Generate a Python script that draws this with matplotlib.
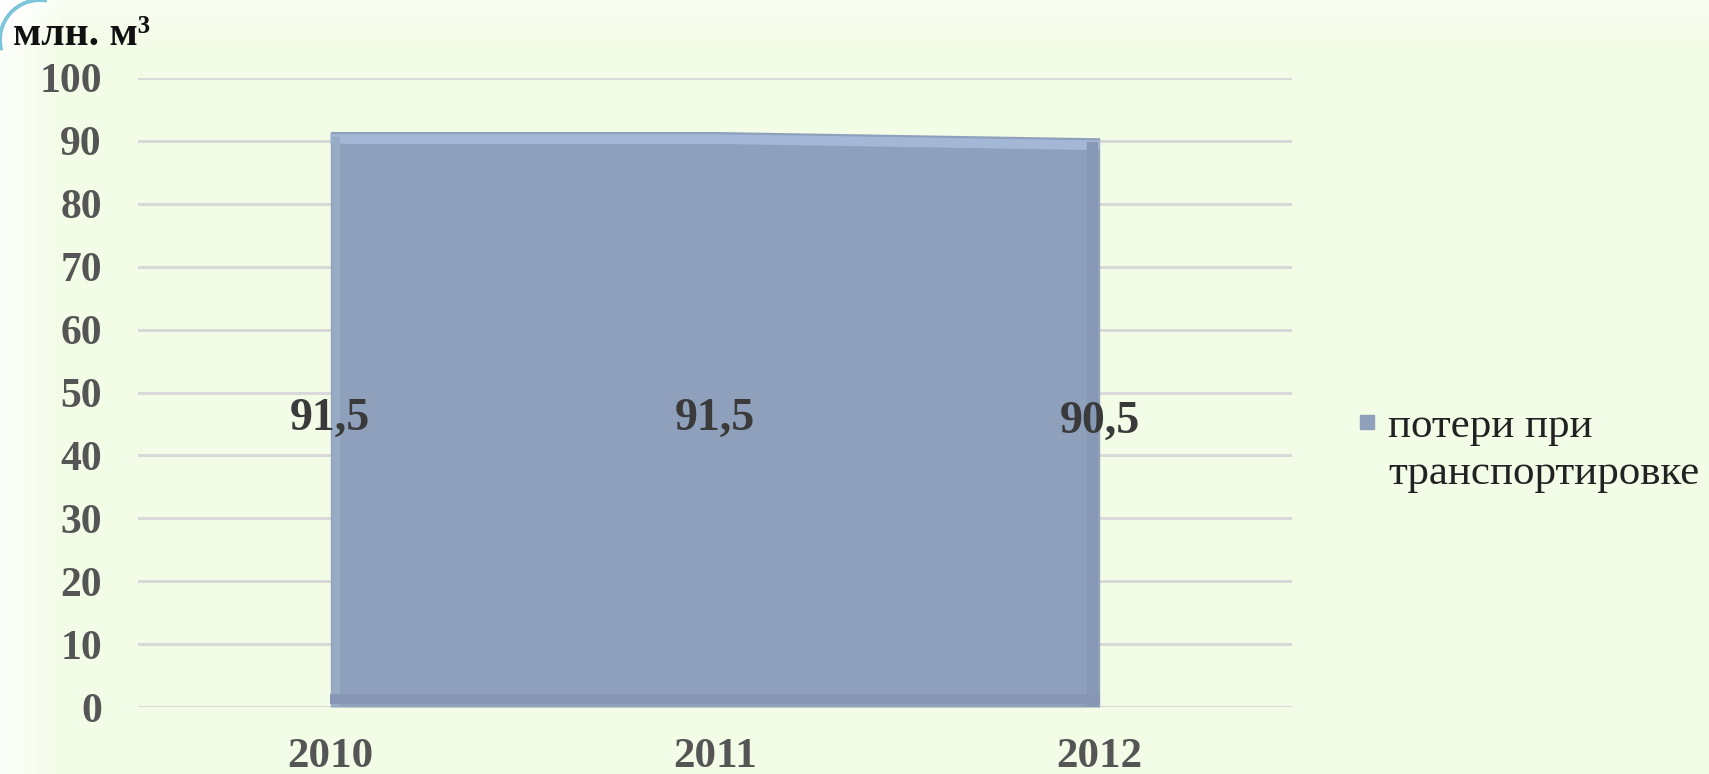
import matplotlib
matplotlib.use("Agg")
import matplotlib.pyplot as plt
import numpy as np
from matplotlib.patches import Arc

years = ["2010", "2011", "2012"]
values = [91.5, 91.5, 90.5]
value_labels = ["91,5", "91,5", "90,5"]
yticks = [0, 10, 20, 30, 40, 50, 60, 70, 80, 90, 100]
series_name = "потери при\nтранспортировке"
unit_label = "млн. м³"

plt.rcParams['font.family'] = ['Liberation Serif', 'DejaVu Serif']

W, H = 1709, 774
fig = plt.figure(figsize=(W / 100, H / 100), dpi=100)
fig.patch.set_facecolor("#F3FCE6")

# subtle background gradient (whiter at the left edge and the top)
bg = fig.add_axes([0, 0, 1, 1], zorder=-10)
gx = np.linspace(0, W, 400)
gy = np.linspace(0, H, 200)
GX, GY = np.meshgrid(gx, gy)
fade = np.clip(1 - GX / 60, 0, 1) * 0.8 + np.clip(1 - GY / 50, 0, 1) * 0.5
fade = np.clip(fade, 0, 1)
base = np.array([0xF3, 0xFC, 0xE6]) / 255.0
img = base[None, None, :] * (1 - fade[..., None]) + fade[..., None]
bg.imshow(img, extent=[0, W, H, 0], origin="upper", aspect="auto")
bg.set_xlim(0, W)
bg.set_ylim(H, 0)
bg.set_axis_off()
bg.add_patch(Arc((40, 40), 80, 80, theta1=165, theta2=280,
                 color="#7CC5DA", lw=2.8))

left, right = 138 / W, 1292 / W
bottom, top = 1 - 707 / H, 1 - 78 / H
ax = fig.add_axes([left, bottom, right - left, top - bottom])
ax.set_facecolor("none")

x = np.arange(len(years))
ax.fill_between(x, 0, values, color="#8FA0BC", lw=0, zorder=3)
# bevel highlights
ax.plot(x, np.array(values) - 1.2, color="#A5B7D7", lw=7, solid_capstyle="butt", zorder=4)
ax.plot([x[0] + 0.015, x[0] + 0.015], [0.5, values[0] - 1.5], color="#97ABC5", lw=6, zorder=4)
ax.plot([x[-1] - 0.02, x[-1] - 0.02], [0.5, values[-1] - 1.5], color="#8698B4", lw=8, zorder=4)
ax.plot(x, [1.2] * len(x), color="#8796B5", lw=7, solid_capstyle="butt", zorder=4)

for xi, v, lab in zip(x, values, value_labels):
    ax.text(xi, v / 2, lab, ha="center", va="center", fontsize=33,
            fontweight="bold", color="#3A3A3A", zorder=5)

ax.set_xlim(-0.5, len(years) - 0.5)
ax.set_ylim(0, 100)
ax.set_yticks(yticks)
ax.set_xticks(x)
ax.set_xticklabels(years)
ax.grid(axis="y", color="#D9D9D9", lw=2.2, zorder=1)
ax.set_axisbelow(True)
for s in ax.spines.values():
    s.set_visible(False)
ax.tick_params(axis="y", length=0, labelsize=30, labelcolor="#555555", pad=26)
ax.tick_params(axis="x", length=0, labelsize=31, labelcolor="#555555", pad=22)
for t in ax.get_xticklabels() + ax.get_yticklabels():
    t.set_fontweight("bold")

fig.text(13 / W, 1 - 45 / H, unit_label, fontsize=30, fontweight="bold",
         color="#111111", ha="left", va="baseline")

# legend
fig.patches.append(plt.Rectangle((1360 / W, 1 - 429 / H), 14 / W, 14 / H,
                                 transform=fig.transFigure, color="#8FA0BC", figure=fig))
fig.text(1388 / W, 1 - 450 / H, series_name, fontsize=31, color="#222222",
         ha="left", va="center", linespacing=1.3)

fig.savefig("out.png", dpi=100, facecolor=fig.get_facecolor())
